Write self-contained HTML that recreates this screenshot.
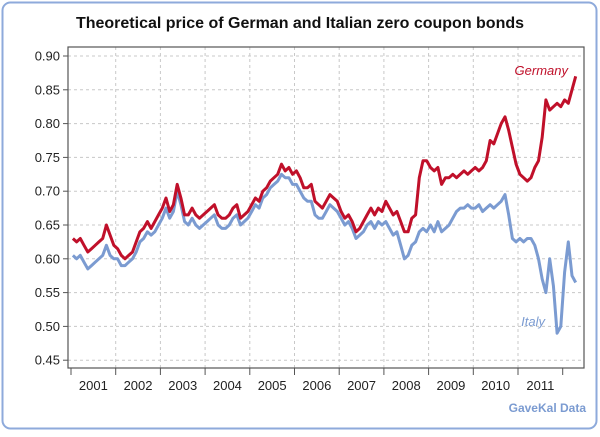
<!DOCTYPE html>
<html><head><meta charset="utf-8"><style>
body{margin:0;background:#fff;width:600px;height:432px;overflow:hidden;font-family:"Liberation Sans",sans-serif}
</style></head><body>
<svg width="600" height="432">
<rect x="2.5" y="2.5" width="594" height="426" rx="8" fill="#fff" stroke="#8eaadb" stroke-width="2"/>
<text x="300" y="28" text-anchor="middle" font-size="16" font-weight="bold" fill="#111">Theoretical price of German and Italian zero coupon bonds</text>
<g id="grid"></g>
<rect x="68" y="47" width="516" height="321" fill="none" stroke="#555" stroke-width="1.2"/>
<g id="axes"></g>
<g id="series"></g>
<text x="568" y="75" text-anchor="end" font-size="13" font-style="italic" fill="#c0102a">Germany</text>
<text x="545" y="326" text-anchor="end" font-size="13" font-style="italic" fill="#7b9bd1">Italy</text>
<text x="586" y="412" text-anchor="end" font-size="12" font-weight="bold" fill="#7b9bd1">GaveKal Data</text>
</svg>
<script>
const yTicks=[0.45,0.50,0.55,0.60,0.65,0.70,0.75,0.80,0.85,0.90];
const years=[2001,2002,2003,2004,2005,2006,2007,2008,2009,2010,2011];
const germany=[.63,.625,.63,.62,.61,.615,.62,.625,.63,.65,.635,.62,
.615,.605,.60,.605,.61,.625,.64,.645,.655,.645,.655,.665,
.675,.69,.67,.68,.71,.69,.665,.665,.675,.665,.66,.665,
.67,.675,.68,.665,.66,.66,.665,.675,.68,.66,.665,.67,
.68,.69,.685,.70,.705,.715,.72,.725,.74,.73,.735,.725,
.73,.72,.705,.705,.71,.685,.68,.675,.685,.695,.69,.685,
.67,.66,.665,.655,.64,.645,.655,.665,.675,.665,.675,.67,
.685,.675,.665,.67,.655,.64,.64,.66,.665,.72,.745,.745,
.735,.73,.735,.71,.72,.72,.725,.72,.725,.73,.725,.73,
.735,.73,.735,.745,.775,.77,.785,.80,.81,.79,.765,.74,
.725,.72,.715,.72,.735,.745,.78,.835,.82,.825,.83,.825,
.835,.83,.85,.87];
const italy=[.605,.60,.605,.595,.585,.59,.595,.60,.605,.62,.605,.60,
.60,.59,.59,.595,.60,.61,.625,.63,.64,.635,.64,.65,
.66,.675,.66,.67,.70,.68,.655,.65,.66,.65,.645,.65,
.655,.66,.665,.65,.645,.645,.65,.66,.665,.65,.655,.66,
.67,.68,.675,.69,.695,.705,.71,.715,.725,.72,.72,.71,
.71,.70,.69,.685,.685,.665,.66,.66,.67,.68,.675,.67,
.66,.65,.655,.645,.63,.635,.64,.65,.655,.645,.655,.65,
.655,.645,.635,.64,.62,.60,.605,.62,.625,.64,.645,.64,
.65,.64,.655,.64,.645,.65,.66,.67,.675,.675,.68,.675,
.675,.68,.67,.675,.68,.675,.68,.685,.695,.665,.63,.625,
.63,.625,.63,.63,.62,.60,.57,.55,.60,.56,.49,.50,
.58,.625,.575,.565];
const NS='http://www.w3.org/2000/svg';
const X=t=>71+(t-2001)*44.7;
const Y=v=>56+(0.90-v)/0.05*33.8;
function mk(tag,attrs,parent){const e=document.createElementNS(NS,tag);for(const k in attrs)e.setAttribute(k,attrs[k]);document.getElementById(parent).appendChild(e);return e;}
yTicks.forEach(v=>{
 const g=mk('line',{x1:68,x2:584,y1:Y(v),y2:Y(v),stroke:'#c8c8c8','stroke-dasharray':'3,3'},'grid');
 
 
 const tk=mk('line',{x1:63,x2:68,y1:Y(v),y2:Y(v),stroke:'#555'},'axes');
 
 
 const t=mk('text',{x:60,y:Y(v)+4.5,'text-anchor':'end','font-size':13,fill:'#222'},'axes');
 t.textContent=v.toFixed(2);
 
 
});
years.concat([2012]).forEach(yr=>{
 const x=X(yr);
 if(yr>2001&&yr<2012){const g=mk('line',{x1:x,x2:x,y1:47,y2:368,stroke:'#c8c8c8','stroke-dasharray':'3,3'},'grid');
 
 }
 const tk=mk('line',{x1:x,x2:x,y1:368,y2:375,stroke:'#555'},'axes');
 
 
});
years.forEach(yr=>{
 const t=mk('text',{x:X(yr+0.5),y:390,'text-anchor':'middle','font-size':13,fill:'#222'},'axes');
 t.textContent=yr;
 
 
});
function line(arr,color,name){
 const d=arr.map((v,i)=>(i?'L':'M')+X(2001+(i+0.5)/12).toFixed(1)+','+Y(v).toFixed(1)).join('');
 const p=mk('path',{d:d,fill:'none',stroke:color,'stroke-width':3,'stroke-linejoin':'round'},'series');
 
 
}
line(italy,'#7b9bd1','italy-line');
line(germany,'#c0102a','germany-line');
</script>
</body></html>
